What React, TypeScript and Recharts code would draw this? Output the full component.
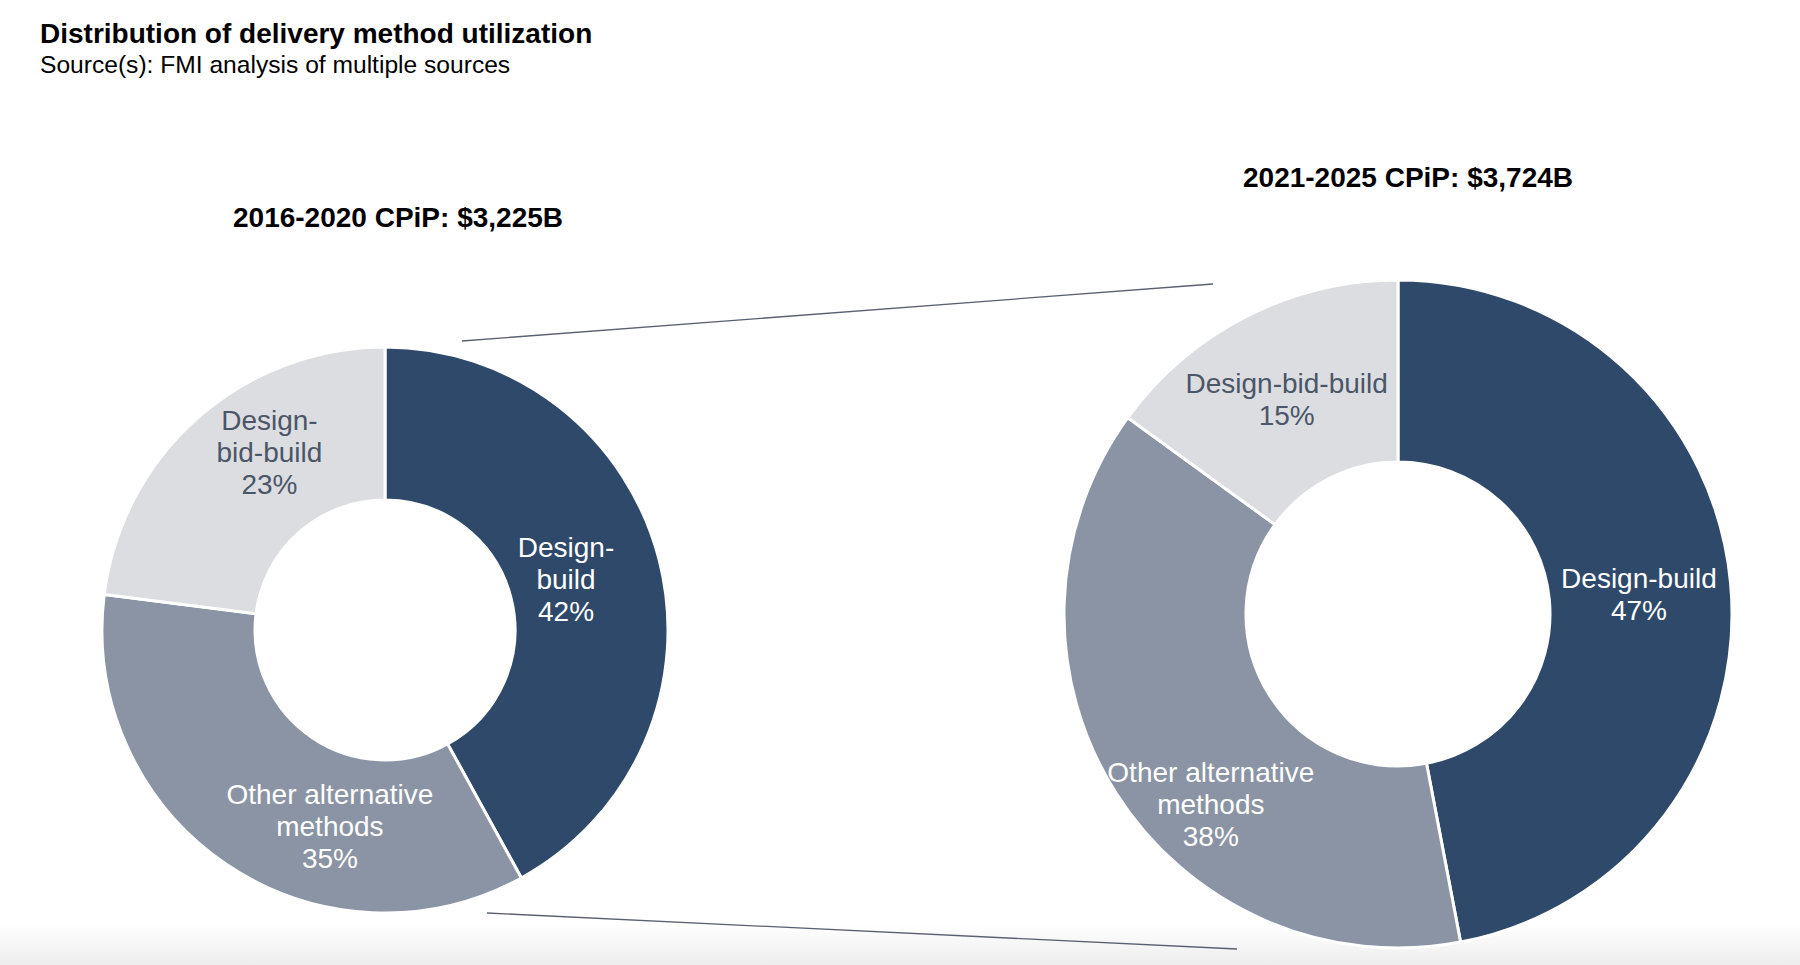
import React from 'react';
import { PieChart, Pie, Cell } from 'recharts';

const categories = ['Design-build', 'Other alternative methods', 'Design-bid-build'];
const share2016 = [42, 35, 23];
const share2021 = [47, 38, 15];
const labelLines2016 = [['Design-', 'build'], ['Other alternative', 'methods'], ['Design-', 'bid-build']];
const labelLines2021 = [['Design-build'], ['Other alternative', 'methods'], ['Design-bid-build']];
const title2016 = '2016-2020 CPiP: $3,225B';
const title2021 = '2021-2025 CPiP: $3,724B';

const sliceColors = ['#2e4969', '#8a94a4', '#dcdde1'];
const labelColors = ['#ffffff', '#ffffff', '#4b5668'];
// nudges so labels sit where the original deck placed them
const labelShift2016 = [[-19, 0], [61, 25], [21, -23]];
const labelShift2021 = [[-1, 3], [18, 60], [-1, 2]];

const FONT = '"Liberation Sans", Arial, Helvetica, sans-serif';
const RADIAN = Math.PI / 180;

const data2016 = categories.map((name, i) => ({ name, value: share2016[i] }));
const data2021 = categories.map((name, i) => ({ name, value: share2021[i] }));

function makeLabel(lines: string[][], shift: number[][]) {
  // eslint-disable-next-line @typescript-eslint/no-explicit-any
  return (props: any) => {
    const { cx, cy, midAngle, innerRadius, outerRadius, index, value } = props;
    const r = (innerRadius + outerRadius) / 2;
    const x = cx + r * Math.cos(-midAngle * RADIAN) + shift[index][0];
    const y = cy + r * Math.sin(-midAngle * RADIAN) + shift[index][1];
    const rows = [...lines[index], `${value}%`];
    const lh = 32;
    return (
      <text x={x} y={y} textAnchor="middle" dominantBaseline="central" fill={labelColors[index]}
        style={{ fontFamily: FONT, fontSize: 28 }}>
        {rows.map((t, i) => (
          <tspan key={i} x={x} dy={i === 0 ? -((rows.length - 1) / 2) * lh : lh}>{t}</tspan>
        ))}
      </text>
    );
  };
}

export default function App() {
  return (
    <div style={{ position: 'absolute', left: 0, top: 0, width: 1800, height: 965, overflow: 'hidden', background: '#fff', fontFamily: FONT }}>
      <div style={{ position: 'absolute', left: 0, top: 925, width: 1800, height: 40, background: 'linear-gradient(#ffffff, #ededed)' }} />

      <div style={{ position: 'absolute', left: 40, top: 20, fontSize: 28, lineHeight: '28px', fontWeight: 'bold', color: '#000' }}>
        Distribution of delivery method utilization
      </div>
      <div style={{ position: 'absolute', left: 40, top: 53, fontSize: 24.6, lineHeight: '24px', color: '#000' }}>
        Source(s): FMI analysis of multiple sources
      </div>

      <div style={{ position: 'absolute', left: 148, width: 500, top: 204, textAlign: 'center', fontSize: 28, lineHeight: '28px', fontWeight: 'bold' }}>
        {title2016}
      </div>
      <div style={{ position: 'absolute', left: 1158, width: 500, top: 164, textAlign: 'center', fontSize: 28, lineHeight: '28px', fontWeight: 'bold' }}>
        {title2021}
      </div>

      <svg width={1800} height={965} style={{ position: 'absolute', left: 0, top: 0 }}>
        <line x1={462} y1={341} x2={1213} y2={284} stroke="#5a6070" strokeWidth={1.3} />
        <line x1={487} y1={913} x2={1237} y2={949} stroke="#5a6070" strokeWidth={1.3} />
      </svg>

      <div style={{ position: 'absolute', left: 0, top: 0 }}>
        <PieChart width={1800} height={965} margin={{ top: 0, right: 0, bottom: 0, left: 0 }}>
          <Pie data={data2016} dataKey="value" nameKey="name" cx={385} cy={630} innerRadius={130} outerRadius={283}
            startAngle={90} endAngle={-270} stroke="#fff" strokeWidth={3} isAnimationActive={false}
            labelLine={false} label={makeLabel(labelLines2016, labelShift2016)}>
            {data2016.map((d, i) => <Cell key={d.name} fill={sliceColors[i]} />)}
          </Pie>
          <Pie data={data2021} dataKey="value" nameKey="name" cx={1398} cy={614} innerRadius={152} outerRadius={334}
            startAngle={90} endAngle={-270} stroke="#fff" strokeWidth={3} isAnimationActive={false}
            labelLine={false} label={makeLabel(labelLines2021, labelShift2021)}>
            {data2021.map((d, i) => <Cell key={d.name} fill={sliceColors[i]} />)}
          </Pie>
        </PieChart>
      </div>
    </div>
  );
}
